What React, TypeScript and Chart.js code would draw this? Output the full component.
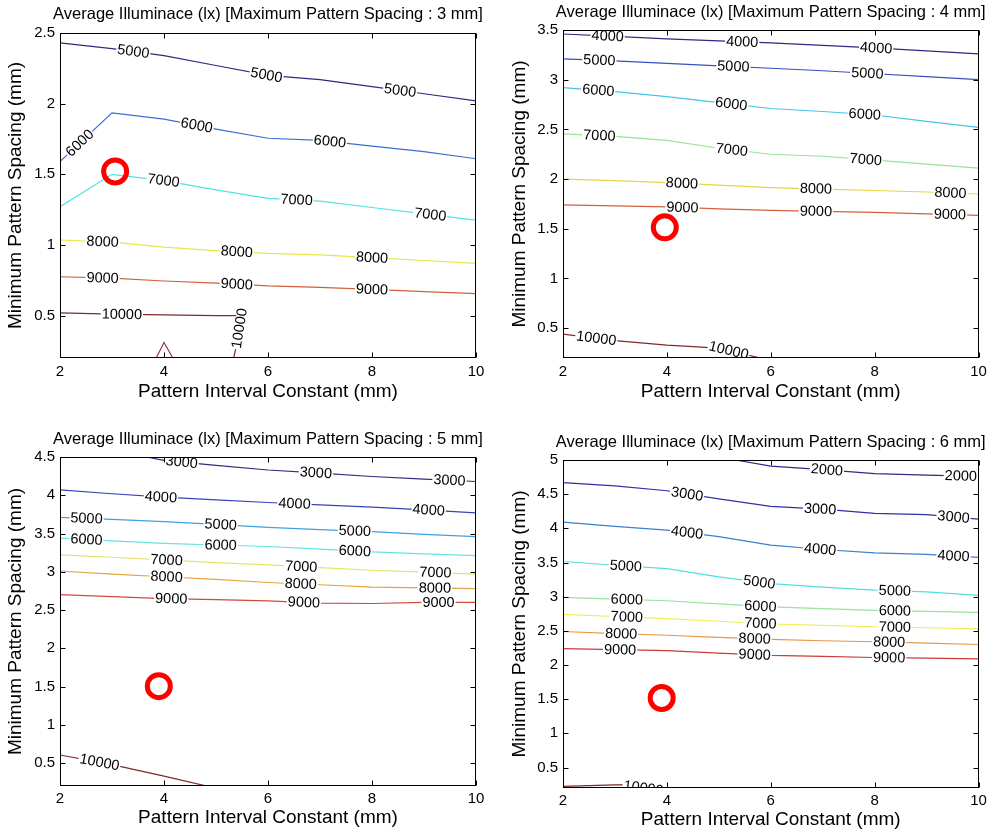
import React, { useEffect, useRef } from "react";
import { Chart, registerables } from "chart.js";

Chart.register(...registerables);
Chart.defaults.font.family = '"Liberation Sans", Arial, Helvetica, sans-serif';
Chart.defaults.color = "#000";

type Pt = [number, number];
type LabelAt = number | Pt;

// ---------- shared axis data ----------
const X_TICKS = [2, 4, 6, 8, 10];
const X_TITLE = "Pattern Interval Constant (mm)";
const Y_TITLE = "Minimum Pattern Spacing (mm)";

// ---------- Panel 1 : max spacing 3 mm ----------
const P1_TITLE = "Average Illuminace (lx) [Maximum Pattern Spacing : 3 mm]";
const P1_Y_TICKS = [0.5, 1, 1.5, 2, 2.5];
const P1_C5000: Pt[] = [[2, 2.43], [3, 2.39], [4, 2.34], [5, 2.27], [6, 2.2], [7, 2.17], [8, 2.12], [9, 2.07], [10, 2.02]];
const P1_C6000: Pt[] = [[2, 1.59], [3, 1.935], [4, 1.89], [5, 1.82], [6, 1.755], [7, 1.74], [8, 1.7], [9, 1.66], [10, 1.61]];
const P1_C7000: Pt[] = [[2, 1.27], [3, 1.5], [4, 1.455], [5, 1.39], [6, 1.33], [7, 1.31], [8, 1.265], [9, 1.22], [10, 1.175]];
const P1_C8000: Pt[] = [[2, 1.035], [3, 1.02], [4, 0.985], [5, 0.96], [6, 0.94], [7, 0.93], [8, 0.91], [9, 0.89], [10, 0.87]];
const P1_C9000: Pt[] = [[2, 0.775], [3, 0.765], [4, 0.745], [5, 0.73], [6, 0.71], [7, 0.7], [8, 0.685], [9, 0.67], [10, 0.655]];
const P1_C10000: Pt[] = [[2, 0.52], [3, 0.51], [4, 0.505], [5, 0.5], [5.49, 0.5], [5.42, 0.33], [5.34, 0.2]];
const P1_PEAK: Pt[] = [[3.85, 0.2], [4.0, 0.31], [4.17, 0.2]];
const P1_MARK: Pt = [3.06, 1.52];

// ---------- Panel 2 : max spacing 4 mm ----------
const P2_TITLE = "Average Illuminace (lx) [Maximum Pattern Spacing : 4 mm]";
const P2_Y_TICKS = [0.5, 1, 1.5, 2, 2.5, 3, 3.5];
const P2_C4000: Pt[] = [[2, 3.46], [3, 3.435], [4, 3.41], [5, 3.39], [6, 3.37], [7, 3.345], [8, 3.32], [9, 3.29], [10, 3.26]];
const P2_C5000: Pt[] = [[2, 3.21], [3, 3.19], [4, 3.165], [5, 3.14], [6, 3.115], [7, 3.09], [8, 3.06], [9, 3.03], [10, 3.0]];
const P2_C6000: Pt[] = [[2, 2.92], [3, 2.88], [4, 2.83], [5, 2.77], [6, 2.71], [7, 2.68], [8, 2.645], [9, 2.58], [10, 2.52]];
const P2_C7000: Pt[] = [[2, 2.455], [3, 2.43], [4, 2.39], [5, 2.31], [6, 2.25], [7, 2.23], [8, 2.19], [9, 2.15], [10, 2.11]];
const P2_C8000: Pt[] = [[2, 2.0], [3, 1.985], [4, 1.965], [5, 1.94], [6, 1.915], [7, 1.9], [8, 1.885], [9, 1.87], [10, 1.85]];
const P2_C9000: Pt[] = [[2, 1.74], [3, 1.73], [4, 1.72], [5, 1.7], [6, 1.685], [7, 1.675], [8, 1.665], [9, 1.65], [10, 1.635]];
const P2_C10000: Pt[] = [[2, 0.44], [3, 0.375], [4, 0.33], [5, 0.3], [5.8, 0.2]];
const P2_MARK: Pt = [3.96, 1.515];

// ---------- Panel 3 : max spacing 5 mm ----------
const P3_TITLE = "Average Illuminace (lx) [Maximum Pattern Spacing : 5 mm]";
const P3_Y_TICKS = [0.5, 1, 1.5, 2, 2.5, 3, 3.5, 4, 4.5];
const P3_C3000: Pt[] = [[3.66, 4.5], [4, 4.455], [5, 4.39], [6, 4.33], [7, 4.29], [8, 4.245], [9, 4.21], [10, 4.18]];
const P3_C4000: Pt[] = [[2, 4.07], [3, 4.02], [4, 3.975], [5, 3.94], [6, 3.905], [7, 3.875], [8, 3.845], [9, 3.81], [10, 3.77]];
const P3_C5000: Pt[] = [[2, 3.71], [3, 3.685], [4, 3.655], [5, 3.62], [6, 3.58], [7, 3.55], [8, 3.525], [9, 3.49], [10, 3.46]];
const P3_C6000: Pt[] = [[2, 3.44], [3, 3.405], [4, 3.37], [5, 3.35], [6, 3.33], [7, 3.295], [8, 3.26], [9, 3.235], [10, 3.21]];
const P3_C7000: Pt[] = [[2, 3.22], [3, 3.19], [4, 3.155], [5, 3.12], [6, 3.09], [7, 3.055], [8, 3.02], [9, 2.995], [10, 2.97]];
const P3_C8000: Pt[] = [[2, 3.01], [3, 2.97], [4, 2.935], [5, 2.9], [6, 2.86], [7, 2.83], [8, 2.8], [9, 2.79], [10, 2.78]];
const P3_C9000: Pt[] = [[2, 2.7], [3, 2.675], [4, 2.65], [5, 2.635], [6, 2.62], [7, 2.59], [8, 2.585], [9, 2.6], [10, 2.6]];
const P3_C10000: Pt[] = [[2, 0.605], [3, 0.48], [4, 0.33], [4.82, 0.2]];
const P3_MARK: Pt = [3.9, 1.505];

// ---------- Panel 4 : max spacing 6 mm ----------
const P4_TITLE = "Average Illuminace (lx) [Maximum Pattern Spacing : 6 mm]";
const P4_Y_TICKS = [0.5, 1, 1.5, 2, 2.5, 3, 3.5, 4, 4.5, 5];
const P4_C2000: Pt[] = [[5.32, 5.0], [6, 4.91], [7, 4.86], [8, 4.8], [9, 4.78], [10, 4.76]];
const P4_C3000: Pt[] = [[2, 4.67], [3, 4.62], [4, 4.55], [5, 4.43], [6, 4.32], [7, 4.28], [8, 4.22], [9, 4.2], [10, 4.135]];
const P4_C4000: Pt[] = [[2, 4.09], [3, 4.03], [4, 3.975], [5, 3.88], [6, 3.755], [7, 3.69], [8, 3.64], [9, 3.62], [10, 3.575]];
const P4_C5000: Pt[] = [[2, 3.515], [3, 3.46], [4, 3.41], [5, 3.29], [6, 3.19], [7, 3.14], [8, 3.095], [9, 3.07], [10, 3.02]];
const P4_C6000: Pt[] = [[2, 2.99], [3, 2.965], [4, 2.94], [5, 2.895], [6, 2.85], [7, 2.825], [8, 2.8], [9, 2.785], [10, 2.77]];
const P4_C7000: Pt[] = [[2, 2.74], [3, 2.71], [4, 2.68], [5, 2.64], [6, 2.6], [7, 2.58], [8, 2.56], [9, 2.545], [10, 2.53]];
const P4_C8000: Pt[] = [[2, 2.49], [3, 2.46], [4, 2.435], [5, 2.405], [6, 2.375], [7, 2.355], [8, 2.34], [9, 2.32], [10, 2.3]];
const P4_C9000: Pt[] = [[2, 2.24], [3, 2.225], [4, 2.21], [5, 2.175], [6, 2.14], [7, 2.125], [8, 2.11], [9, 2.1], [10, 2.09]];
const P4_C10000: Pt[] = [[2, 0.225], [3, 0.245], [3.5, 0.25], [3.97, 0.2]];
const P4_MARK: Pt = [3.9, 1.517];

interface Contour {
  level: string;
  color: string;
  pts: Pt[];
  labels: LabelAt[];
}
interface PanelCfg {
  title: string;
  yMax: number;
  yTicks: number[];
  contours: Contour[];
  marker: Pt;
  left: number;
  top: number;
  w: number;
  h: number;
  area: { l: number; t: number; r: number; b: number };
  titleY: number;
  yTitleX: number;
  xTitleY: number;
  xTickPad: number;
}

const PANELS: PanelCfg[] = [
  {
    title: P1_TITLE, yMax: 2.5, yTicks: P1_Y_TICKS, marker: P1_MARK,
    left: 0, top: 0, w: 497, h: 417, area: { l: 60, t: 33, r: 476, b: 358 },
    titleY: 14, yTitleX: 16, xTitleY: 392, xTickPad: 5,
    contours: [
      { level: "5000", color: "#2c2c7e", pts: P1_C5000, labels: [3.41, 5.97, 8.54] },
      { level: "6000", color: "#3b6fcf", pts: P1_C6000, labels: [2.38, 4.63, 7.19] },
      { level: "7000", color: "#4fe3e3", pts: P1_C7000, labels: [3.99, 6.55, 9.12] },
      { level: "8000", color: "#e6e64a", pts: P1_C8000, labels: [2.82, 5.4, 8.0] },
      { level: "9000", color: "#d0603c", pts: P1_C9000, labels: [2.82, 5.4, 8.0] },
      { level: "10000", color: "#7d2a2a", pts: P1_C10000, labels: [3.19, [5.45, 0.41]] },
      { level: "", color: "#8c3a4e", pts: P1_PEAK, labels: [] },
    ],
  },
  {
    title: P2_TITLE, yMax: 3.5, yTicks: P2_Y_TICKS, marker: P2_MARK,
    left: 500, top: 0, w: 495, h: 417, area: { l: 63, t: 30, r: 481, b: 358 },
    titleY: 12, yTitleX: 20, xTitleY: 392, xTickPad: 5,
    contours: [
      { level: "4000", color: "#2c2c80", pts: P2_C4000, labels: [2.86, 5.45, 8.03] },
      { level: "5000", color: "#3652c0", pts: P2_C5000, labels: [2.7, 5.28, 7.86] },
      { level: "6000", color: "#45c5e8", pts: P2_C6000, labels: [2.68, 5.24, 7.81] },
      { level: "7000", color: "#9ae39a", pts: P2_C7000, labels: [2.7, 5.25, 7.83] },
      { level: "8000", color: "#e8d24a", pts: P2_C8000, labels: [4.29, 6.87, 9.46] },
      { level: "9000", color: "#d2603e", pts: P2_C9000, labels: [4.3, 6.87, 9.45] },
      { level: "10000", color: "#7d2a2a", pts: P2_C10000, labels: [2.64, 5.19] },
    ],
  },
  {
    title: P3_TITLE, yMax: 4.5, yTicks: P3_Y_TICKS, marker: P3_MARK,
    left: 0, top: 418, w: 497, h: 417, area: { l: 60, t: 39, r: 476, b: 368 },
    titleY: 21, yTitleX: 16, xTitleY: 400, xTickPad: 4,
    contours: [
      { level: "3000", color: "#2c2c80", pts: P3_C3000, labels: [4.34, 6.92, 9.49] },
      { level: "4000", color: "#3444b8", pts: P3_C4000, labels: [3.94, 6.51, 9.09] },
      { level: "5000", color: "#42a0e0", pts: P3_C5000, labels: [2.51, 5.09, 7.67] },
      { level: "6000", color: "#66e3e3", pts: P3_C6000, labels: [2.51, 5.09, 7.67] },
      { level: "7000", color: "#e3e36a", pts: P3_C7000, labels: [4.05, 6.64, 9.22] },
      { level: "8000", color: "#e3a443", pts: P3_C8000, labels: [4.05, 6.63, 9.21] },
      { level: "9000", color: "#d04a3c", pts: P3_C9000, labels: [4.14, 6.69, 9.28] },
      { level: "10000", color: "#7d2a2a", pts: P3_C10000, labels: [2.76] },
    ],
  },
  {
    title: P4_TITLE, yMax: 5, yTicks: P4_Y_TICKS, marker: P4_MARK,
    left: 500, top: 418, w: 495, h: 417, area: { l: 63, t: 42, r: 481, b: 370 },
    titleY: 24, yTitleX: 20, xTitleY: 402, xTickPad: 4,
    contours: [
      { level: "2000", color: "#2c2c80", pts: P4_C2000, labels: [7.08, 9.66] },
      { level: "3000", color: "#3030a8", pts: P4_C3000, labels: [4.39, 6.95, 9.52] },
      { level: "4000", color: "#3a7fd0", pts: P4_C4000, labels: [4.39, 6.95, 9.52] },
      { level: "5000", color: "#50dede", pts: P4_C5000, labels: [3.21, 5.78, 8.39] },
      { level: "6000", color: "#9ae39a", pts: P4_C6000, labels: [3.23, 5.8, 8.39] },
      { level: "7000", color: "#eeee55", pts: P4_C7000, labels: [3.23, 5.8, 8.39] },
      { level: "8000", color: "#eb9448", pts: P4_C8000, labels: [3.12, 5.69, 8.28] },
      { level: "9000", color: "#cc3a3a", pts: P4_C9000, labels: [3.1, 5.69, 8.28] },
      { level: "10000", color: "#7d2a2a", pts: P4_C10000, labels: [[3.55, 0.2]] },
    ],
  },
];

const FONT = '"Liberation Sans", Arial, Helvetica, sans-serif';

const decoPlugin = {
  id: "contourDeco",
  afterDatasetsDraw(chart: any, _args: any, opts: any) {
    const cfg: PanelCfg = opts.cfg;
    if (!cfg) return;
    const { ctx, chartArea: ca } = chart;
    const xs = chart.scales.x;
    const ys = chart.scales.y;

    // contour labels
    ctx.save();
    ctx.beginPath();
    ctx.rect(ca.left, ca.top, ca.right - ca.left, ca.bottom - ca.top);
    ctx.clip();
    ctx.font = `14.5px ${FONT}`;
    ctx.textAlign = "center";
    ctx.textBaseline = "middle";
    cfg.contours.forEach((c) => {
      const px = c.pts.map((p) => [xs.getPixelForValue(p[0]), ys.getPixelForValue(p[1])]);
      c.labels.forEach((l) => {
        let X = 0, Y = 0, seg = 0;
        if (typeof l === "number") {
          const lx = xs.getPixelForValue(l);
          for (let i = 0; i < px.length - 1; i++) {
            const a = px[i], b = px[i + 1];
            if ((lx - a[0]) * (lx - b[0]) <= 0 && a[0] !== b[0]) {
              const t = (lx - a[0]) / (b[0] - a[0]);
              X = lx;
              Y = a[1] + t * (b[1] - a[1]);
              seg = i;
              break;
            }
          }
        } else {
          X = xs.getPixelForValue(l[0]);
          Y = ys.getPixelForValue(l[1]);
          let best = Infinity;
          for (let i = 0; i < px.length - 1; i++) {
            const a = px[i], b = px[i + 1];
            const dx = b[0] - a[0], dy = b[1] - a[1];
            const L = dx * dx + dy * dy || 1;
            let t = ((X - a[0]) * dx + (Y - a[1]) * dy) / L;
            t = Math.max(0, Math.min(1, t));
            const qx = a[0] + t * dx, qy = a[1] + t * dy;
            const d = (qx - X) ** 2 + (qy - Y) ** 2;
            if (d < best) { best = d; seg = i; }
          }
        }
        const a = px[seg], b = px[seg + 1];
        let ang = Math.atan2(b[1] - a[1], b[0] - a[0]);
        if (ang > Math.PI / 2) ang -= Math.PI;
        if (ang < -Math.PI / 2) ang += Math.PI;
        ctx.save();
        ctx.translate(X, Y);
        ctx.rotate(ang);
        const w = ctx.measureText(c.level).width;
        ctx.fillStyle = "#fff";
        ctx.fillRect(-w / 2 - 1, -5, w + 2, 10);
        ctx.fillStyle = "#000";
        ctx.fillText(c.level, 0, 0.5);
        ctx.restore();
      });
    });
    ctx.restore();

    // frame + inward ticks
    ctx.save();
    ctx.strokeStyle = "#000";
    ctx.lineWidth = 1;
    const L = Math.round(ca.left) + 0.5, R = Math.round(ca.right) - 0.5;
    const T = Math.round(ca.top) + 0.5, B = Math.round(ca.bottom) - 0.5;
    ctx.strokeRect(L, T, R - L, B - T);
    ctx.beginPath();
    X_TICKS.forEach((v) => {
      const p = Math.round(xs.getPixelForValue(v)) + 0.5;
      ctx.moveTo(p, B); ctx.lineTo(p, B - 5);
      ctx.moveTo(p, T); ctx.lineTo(p, T + 5);
    });
    cfg.yTicks.forEach((v) => {
      const p = Math.round(ys.getPixelForValue(v)) + 0.5;
      ctx.moveTo(L, p); ctx.lineTo(L + 5, p);
      ctx.moveTo(R, p); ctx.lineTo(R - 5, p);
    });
    ctx.stroke();

    // title
    ctx.fillStyle = "#000";
    ctx.font = `16.5px ${FONT}`;
    ctx.textAlign = "center";
    ctx.textBaseline = "middle";
    ctx.fillText(cfg.title, (ca.left + ca.right) / 2, cfg.titleY);
    ctx.restore();
  },
};

function Panel({ cfg }: { cfg: PanelCfg }) {
  const ref = useRef<HTMLCanvasElement | null>(null);
  useEffect(() => {
    if (!ref.current) return;
    const datasets: any[] = [
      {
        label: "marker",
        data: [{ x: cfg.marker[0], y: cfg.marker[1] }],
        showLine: false,
        pointRadius: 11.5,
        pointBorderWidth: 5,
        pointBorderColor: "#ff0000",
        pointBackgroundColor: "rgba(0,0,0,0)",
        borderColor: "#ff0000",
        clip: false,
      },
      ...cfg.contours.map((c) => ({
        label: c.level,
        data: c.pts.map((p) => ({ x: p[0], y: p[1] })),
        showLine: true,
        borderColor: c.color,
        borderWidth: 1.2,
        pointRadius: 0,
        tension: 0,
        fill: false,
      })),
    ];
    const yTitlePad = cfg.yTitleX - 11.4;
    const xTitlePad = cfg.h - cfg.xTitleY - 11.4;
    const chart = new Chart(ref.current, {
      type: "scatter",
      data: { datasets },
      plugins: [decoPlugin],
      options: {
        animation: false,
        responsive: false,
        events: [],
        layout: { padding: { left: 0, top: cfg.area.t, right: cfg.w - cfg.area.r, bottom: 0 } },
        plugins: {
          legend: { display: false },
          tooltip: { enabled: false },
          contourDeco: { cfg },
        } as any,
        scales: {
          x: {
            type: "linear",
            min: 2,
            max: 10,
            afterBuildTicks: (s: any) => { s.ticks = X_TICKS.map((v) => ({ value: v })); },
            afterFit: (s: any) => { s.height = cfg.h - cfg.area.b; },
            grid: { display: false, drawTicks: false },
            border: { display: false },
            ticks: { font: { size: 15 }, color: "#000", padding: cfg.xTickPad, maxRotation: 0, autoSkip: false, callback: (v: any) => String(v) },
            title: { display: true, text: X_TITLE, color: "#000", font: { size: 19 }, padding: { top: 0, bottom: xTitlePad } },
          },
          y: {
            type: "linear",
            min: 0.2,
            max: cfg.yMax,
            afterBuildTicks: (s: any) => { s.ticks = cfg.yTicks.map((v) => ({ value: v })); },
            afterFit: (s: any) => { s.width = cfg.area.l; },
            grid: { display: false, drawTicks: false },
            border: { display: false },
            ticks: { font: { size: 15 }, color: "#000", padding: 5, autoSkip: false, callback: (v: any) => String(v) },
            title: { display: true, text: Y_TITLE, color: "#000", font: { size: 19 }, padding: { top: yTitlePad, bottom: 0 } },
          },
        },
      } as any,
    });
    return () => chart.destroy();
  }, [cfg]);
  return (
    <canvas
      ref={ref}
      width={cfg.w}
      height={cfg.h}
      style={{ position: "absolute", left: cfg.left, top: cfg.top, width: cfg.w, height: cfg.h }}
    />
  );
}

export default function App() {
  return (
    <div style={{ position: "fixed", left: 0, top: 0, width: 995, height: 835, background: "#fff", overflow: "hidden" }}>
      {PANELS.map((p, i) => (
        <Panel key={i} cfg={p} />
      ))}
    </div>
  );
}
